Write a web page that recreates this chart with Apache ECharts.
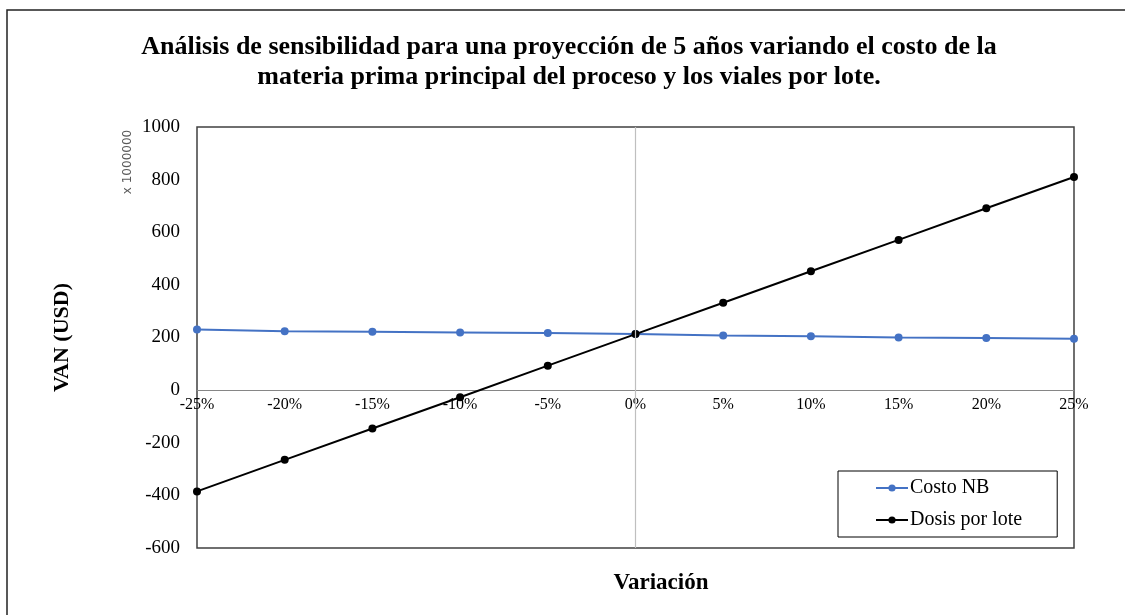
<!DOCTYPE html>
<html>
<head>
<meta charset="utf-8">
<script src="https://cdn.jsdelivr.net/npm/echarts@6/dist/echarts.min.js"></script>
<style>
  html, body { margin: 0; padding: 0; background: #fff; }
  #chart { width: 1125px; height: 615px; }
</style>
</head>
<body>
<div id="chart"></div>
<script>
// Variation of the input cost (categories on the x axis)
const variaciones = ['-25%', '-20%', '-15%', '-10%', '-5%', '0%', '5%', '10%', '15%', '20%', '25%'];
// NPV in millions of USD for each sensitivity case
const costoNB = [230, 224, 222, 219, 217, 213, 208, 205, 200, 198, 195];
const dosisPorLote = [-385, -265, -146, -27, 93, 213, 332, 452, 571, 691, 810];
// Value axis ticks
const yMin = -600, yMax = 1000, yStep = 200;

const serif = '"Liberation Serif", "Times New Roman", serif';

// Plot area geometry
const gridTop = 127, gridBottom = 67, chartH = 615;
const plotH = chartH - gridTop - gridBottom;
// Shift the category axis up so it sits on the value 0
const zeroOffset = plotH * (0 - yMin) / (yMax - yMin);

const chart = echarts.init(document.getElementById('chart'), null, { renderer: 'canvas' });

chart.setOption({
  backgroundColor: '#fff',
  animation: false,
  grid: {
    left: 197, right: 51, top: gridTop, bottom: gridBottom,
    show: true, borderColor: '#404040', borderWidth: 1.5, backgroundColor: 'transparent'
  },
  xAxis: {
    type: 'category',
    data: variaciones,
    boundaryGap: false,
    position: 'bottom',
    offset: -zeroOffset,
    axisLine: { onZero: false, lineStyle: { color: '#868686', width: 1 } },
    axisTick: { show: false },
    axisLabel: { color: '#000', fontFamily: serif, fontSize: 16, margin: 7, interval: 0 },
    splitLine: { show: false }
  },
  yAxis: {
    type: 'value',
    min: yMin, max: yMax, interval: yStep,
    name: 'VAN (USD)',
    nameLocation: 'middle',
    nameGap: 124,
    nameTextStyle: { color: '#000', fontFamily: serif, fontSize: 22, fontWeight: 'bold' },
    axisLine: { show: false },
    axisTick: { show: false },
    axisLabel: { color: '#000', fontFamily: serif, fontSize: 19, margin: 17, formatter: v => String(v) },
    splitLine: { show: false }
  },
  legend: {
    orient: 'vertical',
    left: 838, top: 471,
    padding: [6, 35, 6, 37],
    borderColor: '#000', borderWidth: 1,
    backgroundColor: '#fff',
    itemWidth: 32, itemHeight: 9, itemGap: 10,
    textStyle: { color: '#000', fontFamily: serif, fontSize: 20, lineHeight: 22, padding: [0, 0, 0, -3] },
    data: ['Costo NB', 'Dosis por lote']
  },
  series: [
    {
      name: 'Costo NB',
      type: 'line',
      data: costoNB,
      symbol: 'circle', symbolSize: 8,
      itemStyle: { color: '#4472C4' },
      lineStyle: { color: '#4472C4', width: 2 },
      z: 3,
      markLine: {
        silent: true,
        symbol: 'none',
        label: { show: false },
        lineStyle: { color: '#BFBFBF', width: 1.2, type: 'solid' },
        data: [{ xAxis: '0%' }]
      }
    },
    {
      name: 'Dosis por lote',
      type: 'line',
      data: dosisPorLote,
      symbol: 'circle', symbolSize: 8,
      itemStyle: { color: '#000' },
      lineStyle: { color: '#000', width: 2 },
      z: 4
    }
  ],
  graphic: [
    {
      type: 'rect', silent: true, z: -1,
      shape: { x: 7, y: 10, width: 1300, height: 800 },
      style: { fill: 'none', stroke: '#222', lineWidth: 1.5 }
    },
    {
      type: 'text', silent: true,
      x: 569, y: 32,
      style: {
        text: 'Análisis de sensibilidad para una proyección de 5 años variando el costo de la\nmateria prima principal del proceso y los viales por lote.',
        font: 'bold 26px ' + serif, fill: '#000', align: 'center', lineHeight: 30
      }
    },
    {
      type: 'text', silent: true,
      x: 661, y: 583,
      style: {
        text: 'Variación',
        font: 'bold 23px ' + serif, fill: '#000', align: 'center', verticalAlign: 'middle'
      }
    },
    {
      type: 'text', silent: true,
      x: 128, y: 162, rotation: Math.PI / 2,
      style: {
        text: 'x 1000000',
        font: '12px "DejaVu Sans", sans-serif', fill: '#595959', align: 'center', verticalAlign: 'middle'
      }
    }
  ]
});
</script>
</body>
</html>
